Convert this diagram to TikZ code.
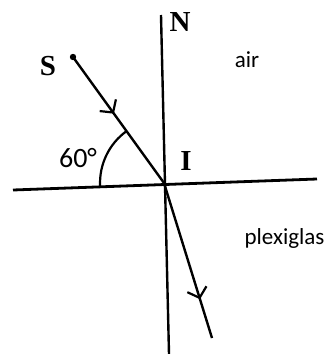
\documentclass[tikz,border=0pt]{standalone}
\usepackage{fontspec}
\setmainfont{Liberation Serif}
\newfontfamily\labelfont{Carlito}
\usetikzlibrary{arrows.meta,decorations.markings}

\tikzset{
  ray/.style={line width=2.4pt},
  midarrow/.style={postaction={decorate,decoration={markings,
      mark=at position #1 with {\arrow[line width=2.2pt]{Straight Barb[length=9pt,width=20pt]}}}}},
  letter/.style={font=\bfseries\fontsize{29}{31}\selectfont},
  medium/.style={font=\labelfont\fontsize{23}{25}\selectfont}
}

\begin{document}
\begin{tikzpicture}[x=1pt, y=-1pt]
\useasboundingbox (0,0) rectangle (326,354);

% Points
\coordinate (I) at (164,183);
\coordinate (Ntop) at (161,15);
\coordinate (Nbot) at (169,354);
\coordinate (L) at (13,190);
\coordinate (Rt) at (317,179);
\coordinate (S) at (73,57);
\coordinate (R) at (212,338);

% Normal and interface
\draw[line width=2.4pt] (Ntop) -- (Nbot);
\draw[line width=2.8pt] (L) -- (Rt);

% Incident and refracted rays
\draw[ray, midarrow=0.45] (S) -- (I);
\draw[ray, midarrow=0.75] (I) -- (R);
\fill (S) circle (3.2pt);

% Angle mark
\draw[line width=2.2pt] (100.1,186) arc[start angle=177.3, end angle=234.2, radius=64];

% Labels
\node[letter] (lS) at (48,66) {S};
\node[letter] (lN) at (180,22) {N};
\node[letter] (lI) at (186,161) {I};
\node[font=\labelfont\fontsize{28}{30}\selectfont] (ang) at (78,158) {60°};
\node[medium] (air) at (247,60) {air};
\node[medium, anchor=east] (plexi) at (328,238) {plexiglas};
\end{tikzpicture}
\end{document}
